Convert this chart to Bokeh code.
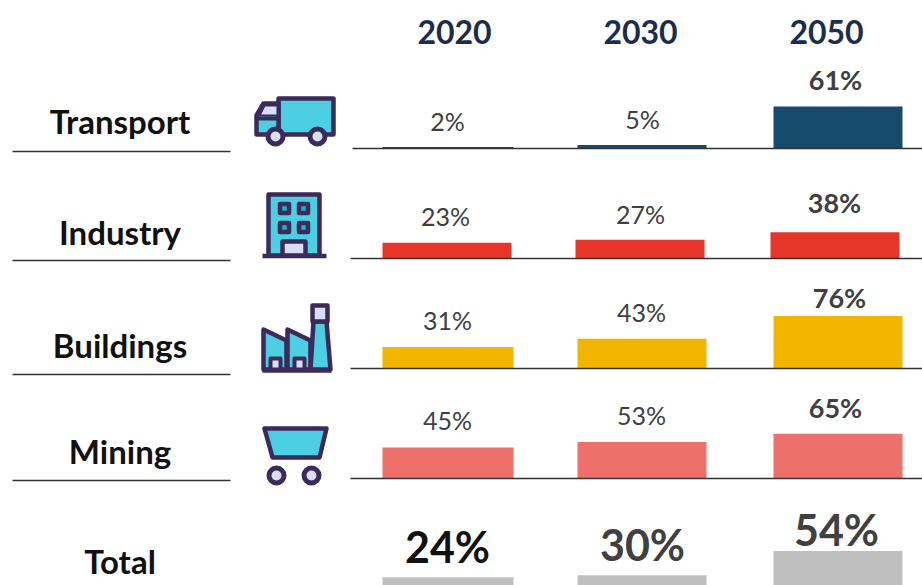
from bokeh.plotting import figure
from bokeh.core.properties import value
from bokeh.embed import file_html
from bokeh.resources import INLINE

years = ["2020", "2030", "2050"]
rows = ["Transport", "Industry", "Buildings", "Mining", "Total"]
transport = [2, 5, 61]
industry = [23, 27, 38]
buildings = [31, 43, 76]
mining = [45, 53, 65]
total = [24, 30, 54]
total_bar_visible = [12, 15, 50]  # only the top of the grey bars is visible above the crop

colors = ["#164b6e", "#e8352a", "#f2b600", "#ee706b", "#bfbfbf"]
INK = "#3b2a5a"; TEAL = "#4ccfe0"; LIGHT = "#d6dff5"; NAVY = "#1a2d4c"; GREY = "#404040"

W, H = 922, 585
p = figure(width=W, height=H, x_range=(0, W), y_range=(H, 0),
           output_backend="svg", toolbar_location=None,
           x_axis_location=None, y_axis_location=None, min_border=0)
p.outline_line_color = None
p.grid.visible = False
p.background_fill_color = "white"

PX = 0.69  # px per percentage point
baselines = [148, 258, 368, 478, 585]
series = [transport, industry, buildings, mining, total_bar_visible]
lefts = [[382, 577, 773], [382, 575, 770], [382, 577, 773], [382, 577, 773], [382, 577, 773]]
widths = [[131, 129, 129], [129, 129, 129], [131, 129, 129], [131, 129, 129], [131, 129, 129]]
for vals, base, ls, ws, c in zip(series, baselines, lefts, widths, colors):
    p.quad(left=ls, right=[l + w for l, w in zip(ls, ws)],
           bottom=[base] * 3, top=[base - v * PX for v in vals],
           fill_color=c, line_color=None)

# rule lines
for x0, x1, y in [(12, 230, 151), (12, 230, 260), (12, 230, 374), (12, 230, 480),
                  (352, 922, 148), (350, 922, 258), (350, 922, 368), (350, 922, 478)]:
    p.segment(x0=[x0], x1=[x1], y0=[y], y1=[y], line_color="#333333", line_width=1.5)

def txt(x, y, s, size, color, style="normal"):
    p.text(x=[x], y=[y], text=[s], text_font=value("Lato"), text_font_size=f"{size}px",
           text_color=color, text_font_style=style, text_align="center", text_baseline="middle")

for x, y in zip(years, [454, 640, 826]):
    txt(y, 31, x, 32, NAVY, "bold")
for name, y in zip(rows, [120, 231, 344, 450, 560]):
    txt(119.5, y, name, 33, "#111111", "bold")

label_pos = [
    [(447, 120), (642, 118), (835, 79)],
    [(445, 215), (640, 213), (834, 202)],
    [(447, 319), (641, 311), (839, 297)],
    [(447, 419), (641, 414), (835, 407)],
]
for vals, pos in zip([transport, industry, buildings, mining], label_pos):
    for i, (v, (x, y)) in enumerate(zip(vals, pos)):
        txt(x, y, f"{v}%", 27 if i == 2 else 25, GREY, "bold" if i == 2 else "normal")
for (v, (x, y), col, size) in zip(total, [(447, 546), (642, 544), (836, 529)],
                                  ["#111111", GREY, GREY], [43, 43, 43]):
    txt(x, y, f"{v}%", size, col, "bold")

# icons
def poly(xs, ys, fill, lw=4.5):
    p.patch(x=xs, y=ys, fill_color=fill, line_color=INK, line_width=lw, line_join="round")
def box(x0, y0, x1, y1, fill, lw=4.5):
    poly([x0, x1, x1, x0], [y0, y0, y1, y1], fill, lw)
def wheel(x, y, r=7.5):
    p.circle(x=[x], y=[y], radius=r, fill_color=LIGHT, line_color=INK, line_width=5)

# truck
box(278, 98, 333, 134, TEAL)
poly([256, 263, 278, 278, 256], [115, 103, 103, 134, 134], TEAL)
poly([259, 264, 277, 277], [115, 105, 105, 115], LIGHT, 2)
p.segment(x0=[256], x1=[278], y0=[118], y1=[118], line_color=INK, line_width=4)
wheel(275, 136); wheel(317, 136)

# building
box(268, 194, 319, 255, TEAL)
p.segment(x0=[262], x1=[326], y0=[255.5], y1=[255.5], line_color=INK, line_width=4.5)
for cx in (284, 303):
    for cy in (208, 227):
        box(cx - 4.5, cy - 4.5, cx + 4.5, cy + 4.5, "#12b8cc", 4.5)
box(282, 241, 305, 255, LIGHT)

# factory
poly([263, 263, 286, 286], [369, 329, 340, 369], TEAL)
poly([287, 287, 310, 310], [369, 329, 340, 369], TEAL)
poly([313, 326, 330, 310], [321, 321, 369, 369], TEAL)
box(312, 305, 327, 321, LIGHT)
box(270, 358, 280, 369, LIGHT, 4)
box(294, 358, 304, 369, LIGHT, 4)
p.segment(x0=[262], x1=[331], y0=[370], y1=[370], line_color=INK, line_width=4.5)

# cart
poly([264, 326, 319, 272], [428, 428, 457, 457], TEAL)
wheel(276, 475); wheel(311, 475)

open("out.html", "w").write(file_html(p, INLINE))
